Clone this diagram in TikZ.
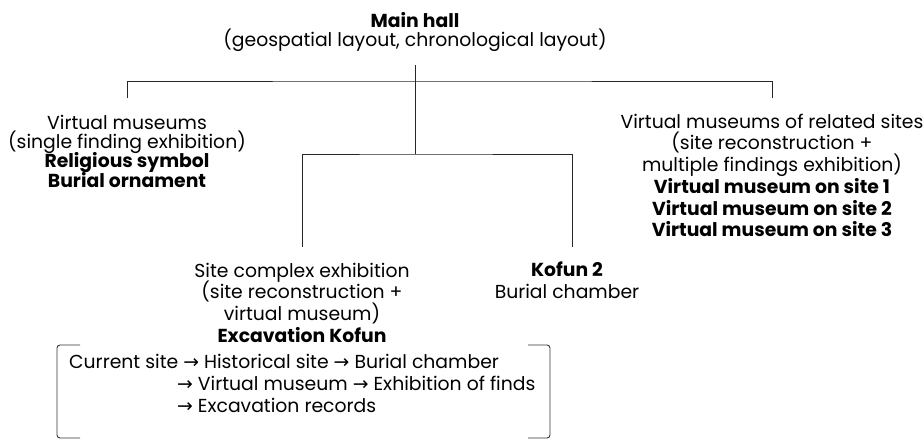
\documentclass[tikz,border=0pt]{standalone}
\usepackage{fontspec}
\setmainfont{Poppins}
\newfontfamily\arrowfont{DejaVu Sans}
\usetikzlibrary{positioning}

\setlength{\lineskiplimit}{-6pt}
\newcommand{\nextstep}{{\arrowfont →}}
\newcommand{\lift}{\rule{0pt}{17pt}}

\tikzset{
  label text/.style={align=center, inner sep=0pt, anchor=north, font=\fontsize{18.8}{21.7}\selectfont},
  tight text/.style={label text, font=\fontsize{18.8}{19.3}\selectfont},
  link/.style={line width=0.9pt, black!85},
  bracket line/.style={line width=0.9pt, black!80, rounded corners=3pt}
}

\begin{document}
\begin{tikzpicture}[x=1pt,y=-1pt]
\useasboundingbox (0,0) rectangle (923,439);

\node[tight text] (mainhall) at (415,10) {\lift\textbf{Main hall}\\(geospatial layout, chronological layout)};

\node[tight text] (single) at (127,112) {\lift Virtual museums\\(single finding exhibition)\\\textbf{Religious symbol}\\\textbf{Burial ornament}};

\node[label text] (related) at (772,111) {\lift Virtual museums of related sites\\(site reconstruction +\\multiple findings exhibition)\\\textbf{Virtual museum on site 1}\\\textbf{Virtual museum on site 2}\\\textbf{Virtual museum on site 3}};

\node[label text] (complex) at (302,260) {\lift Site complex exhibition\\(site reconstruction +\\virtual museum)\\\textbf{Excavation Kofun}};

\node[label text, font=\fontsize{18.8}{22}\selectfont] (kofun) at (567,259) {\lift\textbf{Kofun 2}\\Burial chamber};

\node[label text, font=\fontsize{18.8}{22}\selectfont, align=left, anchor=north west] (route) at (69,351) {\lift Current site \nextstep{} Historical site \nextstep{} Burial chamber\\
\hspace*{108pt}\nextstep{} Virtual museum \nextstep{} Exhibition of finds\\
\hspace*{108pt}\nextstep{} Excavation records};

\coordinate (mainfoot) at (415,65);
\coordinate (hub) at (415,81);
\coordinate (subhub) at (415,154);
\coordinate (singlefoot) at (127,98);
\coordinate (relatedfoot) at (772,98);
\coordinate (complexfoot) at (302,247);
\coordinate (kofunfoot) at (572,247);

\draw[link] (mainfoot) -- (subhub);
\draw[link] (singlefoot) |- (hub) -| (relatedfoot);
\draw[link] (complexfoot) |- (subhub) -| (kofunfoot);

\draw[bracket line] (80,345) -- (57,345) -- (57,438) -- (80,438);
\draw[bracket line] (528,345) -- (550,345) -- (550,438) -- (528,438);

\end{tikzpicture}
\end{document}
